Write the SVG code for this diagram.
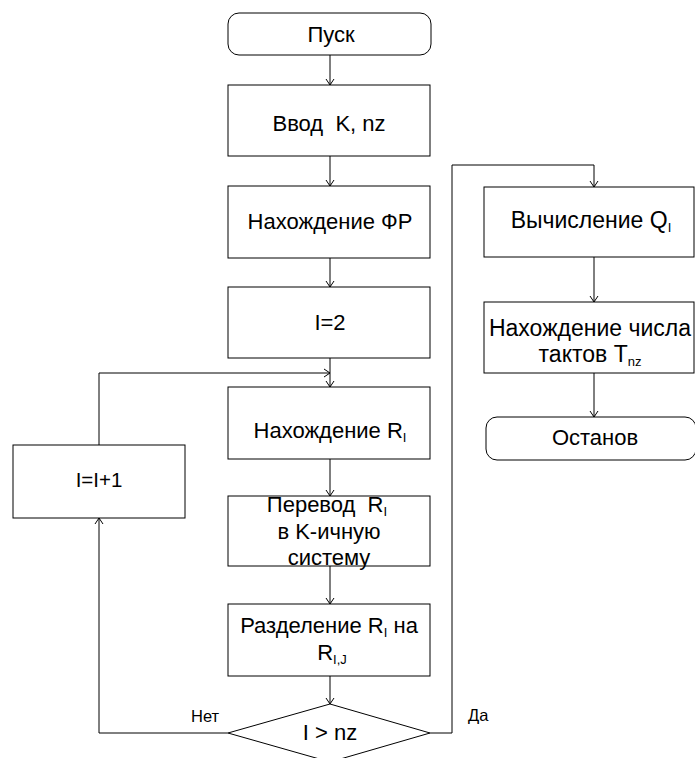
<svg xmlns="http://www.w3.org/2000/svg" width="695" height="758" viewBox="0 0 695 758">
<style>
.b{fill:#fff;stroke:#000;stroke-width:1}
.c{fill:none;stroke:#000;stroke-width:1}
text{font-family:"Liberation Sans",Arial,sans-serif;font-size:22px;fill:#000;text-anchor:middle}
.s{font-size:13px}
.l{text-anchor:start;font-size:16.5px}
.r{font-size:23px}
</style>
<defs>
<marker id="a" markerWidth="12" markerHeight="12" refX="10" refY="6" orient="auto" markerUnits="userSpaceOnUse">
<path d="M4,2 L10,6 L4,10" fill="none" stroke="#000" stroke-width="1"/>
</marker>
</defs>
<g id="connectors">
<line class="c" x1="330" y1="55" x2="330" y2="85" marker-end="url(#a)"/>
<line class="c" x1="330" y1="156" x2="330" y2="186" marker-end="url(#a)"/>
<line class="c" x1="330" y1="258" x2="330" y2="287" marker-end="url(#a)"/>
<line class="c" x1="330" y1="358" x2="330" y2="387" marker-end="url(#a)"/>
<polyline class="c" points="99,445 99,373 330,373" marker-end="url(#a)"/>
<line class="c" x1="330" y1="459" x2="330" y2="496" marker-end="url(#a)"/>
<line class="c" x1="330" y1="566" x2="330" y2="604" marker-end="url(#a)"/>
<line class="c" x1="330" y1="676" x2="330" y2="704" marker-end="url(#a)"/>
<polyline class="c" points="228,733 99,733 99,518" marker-end="url(#a)"/>
<polyline class="c" points="430,733 452,733 452,165 594,165 594,187" marker-end="url(#a)"/>
<line class="c" x1="594" y1="257" x2="594" y2="302" marker-end="url(#a)"/>
<line class="c" x1="594" y1="373" x2="594" y2="417" marker-end="url(#a)"/>
<text class="l" x="191" y="722">Нет</text>
<text class="l" x="468" y="721">Да</text>
</g>
<g id="start">
<rect class="b" x="228" y="13" width="203" height="42" rx="11"/>
<text x="331" y="42">Пуск</text>
</g>
<g id="input">
<rect class="b" x="228" y="85" width="202" height="71"/>
<text x="329" y="131" xml:space="preserve">Ввод  K, nz</text>
</g>
<g id="fr">
<rect class="b" x="228" y="186" width="202" height="72"/>
<text x="330" y="229">Нахождение ФР</text>
</g>
<g id="init">
<rect class="b" x="228" y="287" width="202" height="71"/>
<text x="330" y="330">I=2</text>
</g>
<g id="findR">
<rect class="b" x="228" y="387" width="202" height="72"/>
<text x="330" y="438">Нахождение R<tspan class="s" dy="4">I</tspan></text>
</g>
<g id="convert">
<rect class="b" x="228" y="496" width="202" height="70"/>
<text x="327" y="512" xml:space="preserve">Перевод  R<tspan class="s" dy="4">I</tspan></text>
<text x="329" y="539">в K-ичную</text>
<text x="329" y="565">систему</text>
</g>
<g id="split">
<rect class="b" x="228" y="604" width="202" height="72"/>
<text x="329" y="633">Разделение R<tspan class="s" dy="4">I</tspan><tspan dy="-4"> на</tspan></text>
<text x="332" y="660">R<tspan class="s" dy="4">I,J</tspan></text>
</g>
<g id="decision">
<polygon class="b" points="330,704 430,733 330,762 228,733"/>
<text x="330" y="740">I &gt; nz</text>
</g>
<g id="incr">
<rect class="b" x="13" y="445" width="172" height="73"/>
<text x="99" y="487" style="font-size:20.5px">I=I+1</text>
</g>
<g id="calcQ">
<rect class="b" x="484" y="187" width="210" height="70"/>
<text class="r" x="591" y="228">Вычисление Q<tspan class="s" dy="4">I</tspan></text>
</g>
<g id="findT">
<rect class="b" x="484" y="302" width="210" height="71"/>
<text class="r" x="590" y="336">Нахождение числа</text>
<text class="r" x="590" y="362">тактов T<tspan class="s" dy="4">nz</tspan></text>
</g>
<g id="stop">
<rect class="b" x="486" y="417" width="210" height="43" rx="11"/>
<text x="595" y="445">Останов</text>
</g>
</svg>
